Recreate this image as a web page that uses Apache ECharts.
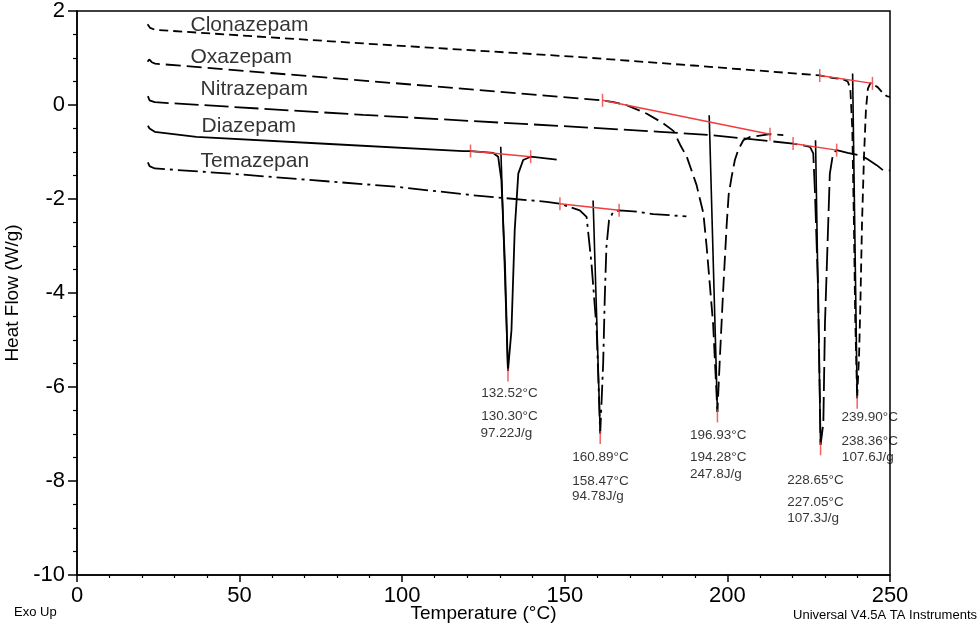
<!DOCTYPE html>
<html><head><meta charset="utf-8">
<script src="https://cdn.jsdelivr.net/npm/echarts@6/dist/echarts.min.js"></script>
<style>html,body{margin:0;padding:0;background:#fff}#c{width:980px;height:630px}</style>
</head><body><div id="c"></div>
<script>
// ---- Data (Temperature °C, Heat Flow W/g) ----
const clonazepamT  = [21.7, 22.5, 24.0, 88.0, 154.6, 189.5, 228.4, 232.0, 235.5, 237.0, 237.8, 238.4, 238.9, 239.3, 239.9, 240.5, 240.9, 241.4, 242.0, 242.6, 243.2, 244.0, 244.6, 246.2, 248.0, 249.0, 250.0];
const clonazepamHF = [1.72, 1.64, 1.60, 1.31, 1.02, 0.84, 0.63, 0.58, 0.55, 0.50, 0.35, -0.50, -2.50, -4.50, -6.24, -5.30, -4.20, -2.50, -1.10, -0.10, 0.35, 0.47, 0.46, 0.38, 0.24, 0.19, 0.17];

const oxazepamT  = [21.7, 22.2, 23.0, 24.0, 88.0, 154.6, 161.6, 165.0, 169.0, 175.1, 180.3, 183.4, 185.5, 187.5, 190.5, 192.6, 193.6, 195.6, 196.93, 197.7, 198.7, 199.8, 200.4, 201.3, 202.3, 203.3, 204.9, 206.9, 213.1, 217.2];
const oxazepamHF = [0.92, 0.97, 0.91, 0.88, 0.52, 0.14, 0.10, 0.06, -0.005, -0.18, -0.39, -0.55, -0.85, -1.10, -1.70, -2.30, -3.00, -4.65, -6.53, -5.36, -3.94, -2.52, -1.90, -1.53, -1.17, -0.96, -0.75, -0.68, -0.62, -0.64];

const nitrazepamT  = [21.8, 22.3, 23.9, 88.0, 154.6, 179.3, 194.6, 204.9, 220.2, 225.4, 226.4, 226.9, 227.9, 228.65, 229.5, 230.0, 231.0, 231.5, 232.5, 233.6, 237.0, 240.8, 242.8, 245.9, 247.9, 250.0];
const nitrazepamHF = [0.19, 0.10, 0.06, -0.21, -0.47, -0.57, -0.64, -0.71, -0.82, -0.89, -1.03, -1.81, -3.94, -7.23, -6.77, -4.65, -2.52, -1.46, -1.03, -0.96, -1.02, -1.07, -1.14, -1.28, -1.39, -1.39];

const diazepamT  = [21.8, 22.3, 23.9, 36.7, 77.7, 118.7, 121.0, 128.0, 129.5, 130.5, 131.6, 132.52, 133.6, 134.6, 135.7, 137.2, 139.5, 147.5];
const diazepamHF = [-0.44, -0.50, -0.57, -0.68, -0.83, -0.98, -0.98, -1.02, -1.10, -1.60, -3.37, -5.66, -4.79, -2.66, -1.46, -1.17, -1.10, -1.16];

const temazepanT  = [21.8, 22.3, 23.9, 47.0, 98.2, 121.8, 144.4, 148.5, 154.6, 156.7, 158.2, 159.8, 160.89, 161.8, 162.3, 162.8, 163.6, 164.9, 166.7, 172.1, 177.2, 187.4];
const temazepanHF = [-1.22, -1.30, -1.35, -1.46, -1.74, -1.92, -2.06, -2.10, -2.24, -2.38, -3.37, -4.79, -6.99, -5.50, -4.08, -3.02, -2.45, -2.27, -2.24, -2.27, -2.32, -2.37];

// integration baselines [T1, HF1, T2, HF2]
const baselineClonazepam = [228.4, 0.63, 244.6, 0.46];
const baselineOxazepam   = [161.6, 0.10, 213.1, -0.62];
const baselineNitrazepam = [220.2, -0.82, 233.6, -0.96];
const baselineDiazepam   = [121.0, -0.98, 139.5, -1.10];
const baselineTemazepan  = [148.5, -2.10, 166.7, -2.24];

// peak drop lines [Ttop, HFtop, Tpeak, HFpeak]
const dropClonazepam = [238.5, 0.67, 239.90, -6.24];
const dropOxazepam   = [194.4, -0.22, 196.93, -6.53];
const dropNitrazepam = [227.1, -0.75, 228.65, -7.23];
const dropDiazepam   = [130.3, -0.89, 132.52, -5.66];
const dropTemazepan  = [158.7, -2.03, 160.89, -6.99];

// curve name labels [T, HF, text]
const curveNames = [
  [34.9, 1.707, 'Clonazepam'],
  [34.9, 1.016, 'Oxazepam'],
  [38.0, 0.335, 'Nitrazepam'],
  [38.3, -0.445, 'Diazepam'],
  [38.0, -1.202, 'Temazepan']
];

// peak annotations [T, HF, text]
const peakNotes = [
  [124.3, -6.135, '132.52°C'], [124.3, -6.618, '130.30°C'], [124.1, -6.986, '97.22J/g'],
  [152.3, -7.496, '160.89°C'], [152.3, -8.000, '158.47°C'], [152.2, -8.334, '94.78J/g'],
  [188.5, -7.028, '196.93°C'], [188.5, -7.505, '194.28°C'], [188.5, -7.851, '247.8J/g'],
  [218.4, -7.994, '228.65°C'], [218.4, -8.461, '227.05°C'], [218.4, -8.793, '107.3J/g'],
  [235.1, -6.646, '239.90°C'], [235.1, -7.164, '238.36°C'], [235.2, -7.505, '107.6J/g']
];

// ---- Build ----
const zip = (a, b) => a.map((v, i) => [v, b[i]]);
const FONT = "'Liberation Sans', Arial, sans-serif";
const RED = '#f03c3c';

function curve(name, T, HF, type) {
  return {
    name, type: 'line', data: zip(T, HF), showSymbol: false, smooth: false,
    lineStyle: { color: '#000', width: 1.8, type: type }, z: 3, silent: true
  };
}

function textSeries(data, size) {
  return {
    type: 'scatter', silent: true, z: 7, symbolSize: 1, itemStyle: { color: 'rgba(0,0,0,0)' },
    label: { show: true, position: ['50%', '50%'], formatter: p => p.data[2], fontSize: size, color: '#000', fontFamily: FONT, align: 'left', verticalAlign: 'middle' },
    data: data
  };
}

const baselines = [baselineClonazepam, baselineOxazepam, baselineNitrazepam, baselineDiazepam, baselineTemazepan];
const drops = [dropClonazepam, dropOxazepam, dropNitrazepam, dropDiazepam, dropTemazepan];

const option = {
  animation: false,
  textStyle: { fontFamily: FONT },
  grid: { left: 77, right: 90, top: 11, bottom: 55, show: true, borderColor: '#000', borderWidth: 1.5, containLabel: false, outerBoundsMode: 'none' },
  xAxis: {
    type: 'value', min: 0, max: 250, interval: 50,
    name: 'Temperature (°C)', nameLocation: 'middle', nameGap: 29, nameMoveOverlap: false,
    nameTextStyle: { fontSize: 19, color: '#000', fontFamily: FONT },
    axisLine: { onZero: false, lineStyle: { color: '#000', width: 1.5 } },
    axisTick: { length: 7, lineStyle: { color: '#000', width: 1.5 } },
    minorTick: { show: true, splitNumber: 5, length: 3, lineStyle: { color: '#000', width: 1.2 } },
    axisLabel: { fontSize: 22, color: '#000', margin: 10, fontFamily: FONT },
    splitLine: { show: false }
  },
  yAxis: {
    type: 'value', min: -10, max: 2, interval: 2,
    name: 'Heat Flow (W/g)', nameLocation: 'middle', nameRotate: 90, nameGap: 54,
    nameTextStyle: { fontSize: 19, color: '#000', fontFamily: FONT },
    axisLine: { onZero: false, lineStyle: { color: '#000', width: 1.5 } },
    axisTick: { length: 9, lineStyle: { color: '#000', width: 1.5 } },
    minorTick: { show: true, splitNumber: 4, length: 4, lineStyle: { color: '#000', width: 1.2 } },
    axisLabel: { fontSize: 22, color: '#000', margin: 12, fontFamily: FONT },
    splitLine: { show: false }
  },
  graphic: [
    { type: 'text', left: 14, top: 606, style: { text: 'Exo Up', fontSize: 13, fill: '#000', fontFamily: FONT } },
    { type: 'text', right: 3, top: 609, style: { text: 'Universal V4.5A TA Instruments', fontSize: 13, fill: '#000', fontFamily: FONT } }
  ],
  series: [
    curve('Clonazepam', clonazepamT, clonazepamHF, [9, 5]),
    curve('Oxazepam', oxazepamT, oxazepamHF, [15, 6]),
    curve('Nitrazepam', nitrazepamT, nitrazepamHF, [24, 6]),
    curve('Diazepam', diazepamT, diazepamHF, 'solid'),
    curve('Temazepan', temazepanT, temazepanHF, [20, 5, 3, 5]),
    {
      type: 'lines', coordinateSystem: 'cartesian2d', silent: true, z: 4,
      lineStyle: { color: '#000', width: 1.6, opacity: 1 },
      data: drops.map(d => ({ coords: [[d[0], d[1]], [d[2], d[3]]] }))
    },
    {
      type: 'lines', coordinateSystem: 'cartesian2d', silent: true, z: 5,
      lineStyle: { color: RED, width: 1.5, opacity: 1 },
      data: baselines.map(b => ({ coords: [[b[0], b[1]], [b[2], b[3]]] }))
    },
    {
      type: 'scatter', silent: true, z: 6, symbol: 'rect', symbolSize: [1.5, 13],
      itemStyle: { color: RED },
      data: baselines.flatMap(b => [[b[0], b[1]], [b[2], b[3]]])
    },
    {
      type: 'scatter', silent: true, z: 6, symbol: 'rect', symbolSize: [1.5, 13], symbolOffset: [0, 4],
      itemStyle: { color: RED },
      data: drops.map(d => [d[2], d[3]])
    },
    textSeries(curveNames, 21),
    textSeries(peakNotes, 13.5)
  ]
};

const chart = echarts.init(document.getElementById('c'), null, { renderer: 'canvas' });
chart.setOption(option);
</script>
</body></html>
